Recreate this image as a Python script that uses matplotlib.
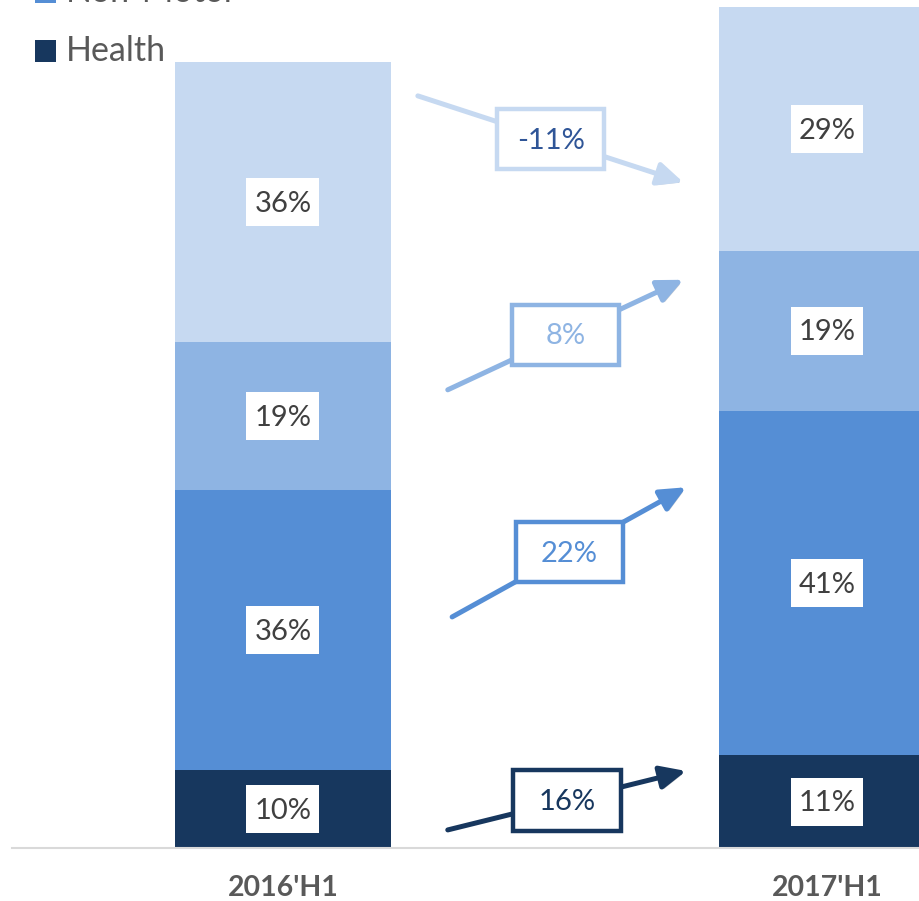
import matplotlib.pyplot as plt
from matplotlib.patches import Rectangle, FancyArrowPatch
import matplotlib.patheffects as pe

plt.rcParams['font.family'] = ['Lato', 'DejaVu Sans']

# shares per period, stacked bottom-up (Health, Non-Motor, then the two upper lines)
periods = ["2016'H1", "2017'H1"]
shares_2016 = [10, 36, 19, 36]
shares_2017 = [11, 41, 19, 29]
period_totals = [100, 107]          # relative size of the whole portfolio
growth = [16, 22, 8, -11]           # growth of each line between the periods
legend_names = ["Non-Motor", "Health"]

colors = ['#17375E', '#558ED5', '#8EB4E3', '#C6D9F1']
growth_text_colors = ['#17375E', '#558ED5', '#8EB4E3', '#2F5597']

# arrow paths between the bars (data coords): x0, y0, x1, y1
arrow_paths = [
    (0.303, 2.3, 0.741, 9.8),
    (0.311, 29.4, 0.741, 45.9),
    (0.303, 58.3, 0.736, 72.3),
    (0.248, 95.7, 0.736, 84.7),
]

fig = plt.figure(figsize=(9.2, 9.01), dpi=100)
ax = fig.add_axes([12 / 920, 53 / 901, 908 / 920, 848 / 901])
ax.set_xlim(-0.498, 1.171)
ax.set_ylim(0, 107.9)

bar_w = 0.397
for i, shares in enumerate([shares_2016, shares_2017]):
    scale = period_totals[i] / sum(shares)
    bottom = 0
    for k, s in enumerate(shares):
        h = s * scale
        ax.bar(i, h, bottom=bottom, width=bar_w, color=colors[k], linewidth=0)
        # white value tag in the middle of the segment
        bw, bh = 0.134, 6.1
        mid = bottom + h / 2
        ax.add_patch(Rectangle((i - bw / 2, mid - bh / 2), bw, bh,
                               facecolor='white', edgecolor='none', zorder=3))
        ax.text(i, mid - 0.2, f"{s}%", ha='center', va='center', fontsize=21,
                color='#404040', zorder=4)
        bottom += h

# growth arrows with boxed labels
for k, (x0, y0, x1, y1) in enumerate(arrow_paths):
    arr = FancyArrowPatch((x0, y0), (x1, y1),
                          arrowstyle='-|>,head_length=1.1,head_width=0.5',
                          mutation_scale=14, lw=3.6, color=colors[k],
                          shrinkA=0, shrinkB=0, zorder=2)
    arr.set_path_effects([pe.SimplePatchShadow(offset=(1.5, -1.5), alpha=0.25),
                          pe.Normal()])
    ax.add_patch(arr)
    cx, cy = (x0 + x1) / 2, (y0 + y1) / 2
    bw, bh = 0.197, 7.7
    ax.add_patch(Rectangle((cx - bw / 2, cy - bh / 2), bw, bh, facecolor='white',
                           edgecolor=colors[k], lw=3.2, zorder=3))
    ax.text(cx, cy - 0.2, f"{growth[k]}%", ha='center', va='center', fontsize=21,
            color=growth_text_colors[k], zorder=4)

for sp in ['top', 'right', 'left']:
    ax.spines[sp].set_visible(False)
ax.spines['bottom'].set_color('#D9D9D9')
ax.spines['bottom'].set_linewidth(1.5)
ax.set_yticks([])
ax.set_xticks([])
for i, p in enumerate(periods):
    ax.text(i, -40 / 848, p, transform=ax.get_xaxis_transform(), ha='center',
            va='center', fontsize=20.5, fontweight='bold', color='#595959')

# legend entries (top of the list runs off the canvas)
leg_colors = [colors[1], colors[0]]
for j, name in enumerate(legend_names):
    yc = 1 - (-8 + 59 * j) / 901
    fig.patches.append(Rectangle((35 / 920, yc - 11 / 901), 21 / 920, 22 / 901,
                                 transform=fig.transFigure, facecolor=leg_colors[j],
                                 edgecolor='none'))
    fig.text(66 / 920, yc, name, ha='left', va='center', fontsize=24.5,
             color='#595959')

fig.savefig('out.png', dpi=100)
